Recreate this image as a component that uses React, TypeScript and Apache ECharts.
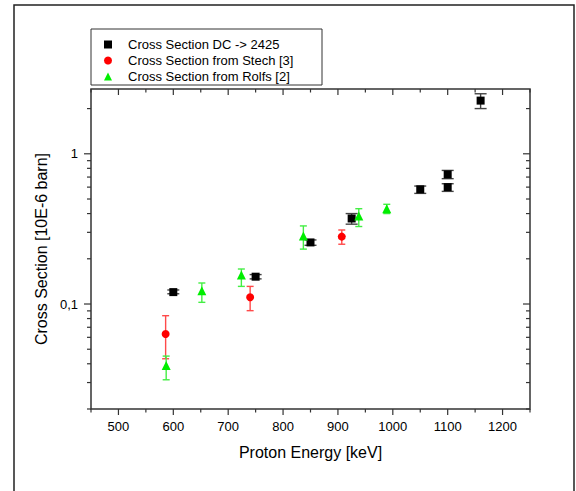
import React, { useEffect, useRef } from "react";
import * as echarts from "echarts";

// ---- data ----
const dcEnergy = [600, 750, 850, 925, 1050, 1100, 1100, 1160];
const dcValue = [0.12, 0.152, 0.257, 0.371, 0.58, 0.729, 0.6, 2.26];
const dcLow = [0.117, 0.147, 0.246, 0.34, 0.545, 0.683, 0.562, 2.0];
const dcHigh = [0.124, 0.157, 0.267, 0.4, 0.61, 0.775, 0.632, 2.51];

const stechEnergy = [586, 740, 907];
const stechValue = [0.0632, 0.1108, 0.281];
const stechLow = [0.0432, 0.0903, 0.25];
const stechHigh = [0.0836, 0.131, 0.311];

const rolfsEnergy = [587, 652, 724, 837, 938, 989];
const rolfsValue = [0.039, 0.1225, 0.156, 0.284, 0.385, 0.431];
const rolfsLow = [0.0313, 0.1026, 0.131, 0.232, 0.328, 0.4];
const rolfsHigh = [0.045, 0.138, 0.171, 0.331, 0.431, 0.461];

const seriesNames = [
  "Cross Section DC -> 2425",
  "Cross Section from Stech [3]",
  "Cross Section from Rolfs [2]",
];

const xMin = 450;
const xMax = 1250;
const yMin = 0.02;
const yMax = 2.7;
const xTickValues = [450, 500, 550, 600, 650, 700, 750, 800, 850, 900, 950, 1000, 1050, 1100, 1150, 1200, 1250];
const xLabelValues = [500, 600, 700, 800, 900, 1000, 1100, 1200];
const yTickValues = [0.02, 0.03, 0.04, 0.05, 0.06, 0.07, 0.08, 0.09, 0.1, 0.2, 0.3, 0.4, 0.5, 0.6, 0.7, 0.8, 0.9, 1, 2];
const yMajorValues = [0.1, 1];
const yLabelTexts = ["0,1", "1"];

const FONT = "'Liberation Sans', Arial, sans-serif";

function errData(e: number[], lo: number[], hi: number[]) {
  return e.map((x, i) => [x, lo[i], hi[i]]);
}

function makeErrSeries(data: number[][], color: string, capHalf: number) {
  return {
    type: "custom",
    silent: true,
    z: 1,
    encode: { x: 0, y: [1, 2] },
    data,
    renderItem: (params: any, api: any) => {
      const x = api.value(0);
      const lo = api.coord([x, api.value(1)]);
      const hi = api.coord([x, api.value(2)]);
      const st = { stroke: color, lineWidth: 1.4 };
      return {
        type: "group",
        children: [
          { type: "line", shape: { x1: lo[0], y1: lo[1], x2: hi[0], y2: hi[1] }, style: st },
          { type: "line", shape: { x1: lo[0] - capHalf, y1: lo[1], x2: lo[0] + capHalf, y2: lo[1] }, style: st },
          { type: "line", shape: { x1: hi[0] - capHalf, y1: hi[1], x2: hi[0] + capHalf, y2: hi[1] }, style: st },
        ],
      };
    },
  };
}

export default function App() {
  const ref = useRef<HTMLDivElement>(null);
  useEffect(() => {
    if (!ref.current) return;
    const chart = echarts.init(ref.current, null, { renderer: "svg" });

    // tick items: [x, y, kind(0=x tick,1=y tick), major]
    const tickData: number[][] = [];
    xTickValues.forEach((v) => tickData.push([v, yMin, 0, v % 100 === 0 ? 1 : 0]));
    yTickValues.forEach((v) =>
      tickData.push([xMin, v, 1, yMajorValues.some((m) => Math.abs(m - v) < 1e-9) ? 1 : 0])
    );

    const option: any = {
      animation: false,
      backgroundColor: "#fff",
      grid: {
        left: 91,
        right: 46,
        top: 89,
        bottom: 82,
        show: true,
        borderColor: "#333",
        borderWidth: 1.5,
        backgroundColor: "transparent",
      },
      xAxis: {
        type: "value",
        min: xMin,
        max: xMax,
        interval: 50,
        name: "Proton Energy [keV]",
        nameLocation: "middle",
        nameGap: 35,
        nameTextStyle: { fontFamily: FONT, fontSize: 16, color: "#000" },
        axisLine: { show: false },
        axisTick: { show: false },
        splitLine: { show: false },
        axisLabel: {
          margin: 11,
          fontFamily: FONT,
          fontSize: 13,
          color: "#000",
          formatter: (v: number) => (xLabelValues.includes(v) ? String(v) : ""),
        },
      },
      yAxis: {
        type: "log",
        min: yMin,
        max: yMax,
        name: "Cross Section [10E-6 barn]",
        nameLocation: "middle",
        nameGap: 36,
        nameTextStyle: { fontFamily: FONT, fontSize: 16, color: "#000" },
        axisLine: { show: false },
        axisTick: { show: false },
        splitLine: { show: false },
        axisLabel: {
          margin: 13,
          fontFamily: FONT,
          fontSize: 13,
          color: "#000",
          showMinLabel: false,
          showMaxLabel: false,
          formatter: (v: number) => {
            const i = yMajorValues.findIndex((m) => Math.abs(m - v) < 1e-9);
            return i >= 0 ? yLabelTexts[i] : "";
          },
        },
      },
      legend: {
        left: 104,
        top: 38,
        orient: "vertical",
        itemWidth: 8,
        itemHeight: 8,
        itemGap: 3,
        padding: 0,
        textStyle: {
          fontFamily: FONT,
          fontSize: 13,
          color: "#000",
          lineHeight: 13,
          padding: [0, 0, 0, 11],
        },
        data: [
          { name: seriesNames[0], icon: "rect" },
          { name: seriesNames[1], icon: "circle" },
          { name: seriesNames[2], icon: "triangle" },
        ],
      },
      graphic: [
        {
          type: "rect",
          silent: true,
          shape: { x: 14, y: 5, width: 560, height: 540 },
          style: { fill: "none", stroke: "#222", lineWidth: 1.5 },
        },
        {
          type: "rect",
          silent: true,
          shape: { x: 91, y: 29, width: 231, height: 56 },
          style: { fill: "#fff", stroke: "#333", lineWidth: 1 },
          z: -1,
        },
      ],
      series: [
        {
          type: "custom",
          silent: true,
          z: 3,
          encode: { x: 0, y: 1 },
          data: tickData,
          renderItem: (params: any, api: any) => {
            const kind = api.value(2);
            const major = api.value(3) === 1;
            const st = { stroke: "#333", lineWidth: 1.2 };
            if (kind === 0) {
              const v = api.value(0);
              const b = api.coord([v, yMin]);
              const t = api.coord([v, yMax]);
              const L = major ? 6 : 3.5;
              return {
                type: "group",
                children: [
                  { type: "line", shape: { x1: b[0], y1: b[1], x2: b[0], y2: b[1] + L }, style: st },
                  { type: "line", shape: { x1: t[0], y1: t[1], x2: t[0], y2: t[1] + L }, style: st },
                ],
              };
            }
            const v = api.value(1);
            const l = api.coord([xMin, v]);
            const r = api.coord([xMax, v]);
            const L = major ? 7 : 4;
            return {
              type: "group",
              children: [
                { type: "line", shape: { x1: l[0] - L, y1: l[1], x2: l[0], y2: l[1] }, style: st },
                { type: "line", shape: { x1: r[0] - L, y1: r[1], x2: r[0], y2: r[1] }, style: st },
              ],
            };
          },
        },
        makeErrSeries(errData(dcEnergy, dcLow, dcHigh), "#444", 6),
        makeErrSeries(errData(stechEnergy, stechLow, stechHigh), "#ff4a4a", 3.5),
        makeErrSeries(errData(rolfsEnergy, rolfsLow, rolfsHigh), "#44ee44", 3.5),
        {
          name: seriesNames[0],
          type: "scatter",
          symbol: "rect",
          symbolSize: 8,
          z: 2,
          itemStyle: { color: "#000", opacity: 1 },
          data: dcEnergy.map((x, i) => [x, dcValue[i]]),
        },
        {
          name: seriesNames[1],
          type: "scatter",
          symbol: "circle",
          symbolSize: 8,
          z: 2,
          itemStyle: { color: "#ff0000", opacity: 1 },
          data: stechEnergy.map((x, i) => [x, stechValue[i]]),
        },
        {
          name: seriesNames[2],
          type: "scatter",
          symbol: "triangle",
          symbolSize: 9,
          z: 2,
          itemStyle: { color: "#00ee00", opacity: 1 },
          data: rolfsEnergy.map((x, i) => [x, rolfsValue[i]]),
        },
      ],
    };
    chart.setOption(option);
    return () => chart.dispose();
  }, []);
  return (
    <div
      ref={ref}
      style={{ position: "fixed", left: 0, top: 0, width: 576, height: 491 }}
    />
  );
}
